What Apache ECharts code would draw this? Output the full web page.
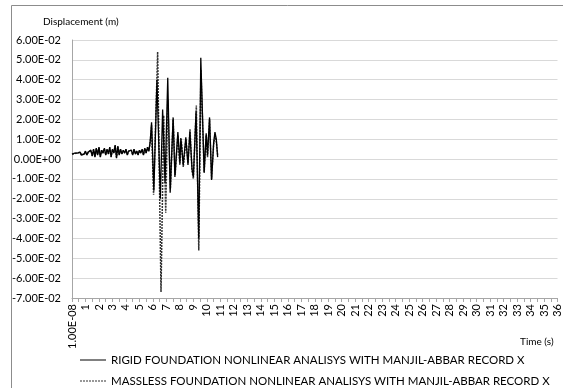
<!DOCTYPE html>
<html><head><meta charset="utf-8">
<script src="https://cdn.jsdelivr.net/npm/echarts@6/dist/echarts.min.js"></script>
<style>html,body{margin:0;padding:0;background:#fff}#c{width:563px;height:388px}</style>
</head><body><div id="c"></div>
<script>
// X tick labels (seconds)
const xTickLabels = ['1.00E-08','1','2','3','4','5','6','7','8','9','10','11','12','13','14','15','16','17','18','19','20','21','22','23','24','25','26','27','28','29','30','31','32','33','34','35','36'];
// Y tick labels
const yTickValues = [0.06,0.05,0.04,0.03,0.02,0.01,0,-0.01,-0.02,-0.03,-0.04,-0.05,-0.06,-0.07];
const yTickLabels = ['6.00E-02','5.00E-02','4.00E-02','3.00E-02','2.00E-02','1.00E-02','0.00E+00','-1.00E-02','-2.00E-02','-3.00E-02','-4.00E-02','-5.00E-02','-6.00E-02','-7.00E-02'];

// Series names
const rigidName = 'RIGID FOUNDATION NONLINEAR ANALISYS WITH MANJIL-ABBAR RECORD X';
const masslessName = 'MASSLESS FOUNDATION NONLINEAR ANALISYS WITH MANJIL-ABBAR RECORD X';

// Rigid foundation (solid) — time (s) and displacement (m)
const rigidTime = [0.0,0.1,0.2,0.3,0.4,0.5,0.6,0.7,0.8,0.9,1.0,1.1,1.2,1.3,1.4,1.5,1.6,1.7,1.8,1.9,2.0,2.1,2.2,2.3,2.4,2.5,2.6,2.7,2.8,2.9,3.0,3.1,3.2,3.3,3.4,3.5,3.6,3.7,3.8,3.9,4.0,4.1,4.2,4.3,4.4,4.5,4.6,4.7,4.8,4.9,5.0,5.1,5.2,5.3,5.4,5.5,5.6,5.7,5.8,5.9,6.07,6.3,6.55,6.72,6.9,7.1,7.28,7.5,7.63,7.85,8.0,8.07,8.25,8.44,8.6,8.74,8.9,9.0,9.2,9.4,9.55,9.8,9.95,10.05,10.2,10.35,10.5,10.6,10.7,10.8];
const rigidDisp = [0.0025,0.0020,0.0030,0.0020,0.0030,0.0025,0.0035,0.0020,0.0030,0.0025,0.0040,0.0020,0.0035,0.0030,0.0045,0.0015,0.0050,0.0010,0.0055,0.0020,0.0060,0.0010,0.0045,0.0030,0.0055,0.0020,0.0050,0.0025,0.0060,0.0010,0.0050,0.0030,0.0070,0.0005,0.0065,0.0020,0.0050,0.0025,0.0045,0.0030,0.0050,0.0020,0.0040,0.0030,0.0045,0.0020,0.0050,0.0025,0.0040,0.0020,0.0045,0.0030,0.0050,0.0020,0.0055,0.0030,0.0060,0.0040,0.0090,0.0185,-0.0160,0.0400,-0.0200,0.0250,-0.0120,0.0410,-0.0170,0.0210,-0.0090,0.0136,-0.0020,0.0106,-0.0030,0.0110,-0.0030,0.0136,-0.0050,-0.0090,0.0240,-0.0400,0.0510,-0.0065,0.0130,0.0020,0.0210,-0.0105,0.0080,0.0136,0.0100,0.0010];

// Massless foundation (dashed) — time (s) and displacement (m)
const masslessTime = [0.0,0.1,0.2,0.3,0.4,0.5,0.6,0.7,0.8,0.9,1.0,1.1,1.2,1.3,1.4,1.5,1.6,1.7,1.8,1.9,2.0,2.1,2.2,2.3,2.4,2.5,2.6,2.7,2.8,2.9,3.0,3.1,3.2,3.3,3.4,3.5,3.6,3.7,3.8,3.9,4.0,4.1,4.2,4.3,4.4,4.5,4.6,4.7,4.8,4.9,5.0,5.1,5.2,5.3,5.4,5.5,5.6,5.7,5.8,5.9,6.05,6.35,6.6,6.8,6.95,7.1,7.3,7.5,7.65,7.85,8.0,8.1,8.25,8.45,8.6,8.75,8.9,9.0,9.22,9.4,9.56,9.8,9.95,10.05,10.2,10.35,10.5,10.6,10.7,10.8];
const masslessDisp = [0.0025,0.0022,0.0028,0.0020,0.0032,0.0024,0.0033,0.0021,0.0030,0.0026,0.0038,0.0022,0.0034,0.0030,0.0043,0.0017,0.0048,0.0012,0.0052,0.0022,0.0058,0.0012,0.0044,0.0031,0.0053,0.0022,0.0048,0.0027,0.0058,0.0012,0.0048,0.0031,0.0068,0.0008,0.0062,0.0022,0.0048,0.0027,0.0043,0.0031,0.0048,0.0022,0.0040,0.0031,0.0044,0.0022,0.0048,0.0027,0.0040,0.0022,0.0044,0.0031,0.0048,0.0022,0.0053,0.0031,0.0058,0.0040,0.0085,0.0170,-0.0180,0.0540,-0.0670,0.0220,-0.0270,0.0300,-0.0150,0.0200,-0.0080,0.0120,-0.0030,0.0100,-0.0040,0.0100,-0.0020,0.0150,-0.0060,-0.0100,0.0270,-0.0460,0.0450,-0.0070,0.0120,0.0010,0.0200,-0.0100,0.0070,0.0120,0.0090,0.0020];

const toPairs = (ts, vs) => ts.map((t, i) => [t, vs[i]]);
const FONT = 'Lato, "Open Sans", sans-serif';
const solidIcon = 'path://M0,4.5L26,4.5L26,5.5L0,5.5Z';
const dashIcon = 'path://M0,4.5L2,4.5L2,5.5L0,5.5ZM3,4.5L5,4.5L5,5.5L3,5.5ZM6,4.5L8,4.5L8,5.5L6,5.5ZM9,4.5L11,4.5L11,5.5L9,5.5ZM12,4.5L14,4.5L14,5.5L12,5.5ZM15,4.5L17,4.5L17,5.5L15,5.5ZM18,4.5L20,4.5L20,5.5L18,5.5ZM21,4.5L23,4.5L23,5.5L21,5.5ZM24,4.5L26,4.5L26,5.5L24,5.5Z';
const legendBase = {itemWidth: 26, itemHeight: 10, itemGap: 3, textStyle: {fontFamily: FONT, fontSize: 11.5, color: '#000'}, selectedMode: false};

const chart = echarts.init(document.getElementById('c'), null, {renderer: 'canvas'});
chart.setOption({
  animation: false,
  backgroundColor: '#fff',
  graphic: [
    {type: 'rect', shape: {x: 11.5, y: 5.5, width: 600, height: 400}, style: {fill: 'none', stroke: '#8c8c8c', lineWidth: 1}, silent: true},
    {type: 'text', left: 43, top: 17, style: {text: 'Displacement (m)', font: '10px ' + FONT, fill: '#000'}},
    {type: 'text', left: 520, top: 337, style: {text: 'Time (s)', font: '10px ' + FONT, fill: '#000'}}
  ],
  grid: {left: 72, right: 5, top: 40, bottom: 90, containLabel: false},
  legend: [
    Object.assign({left: 75, top: 349, data: [{name: rigidName, icon: solidIcon, itemStyle: {color: '#000'}}]}, legendBase),
    Object.assign({left: 75, top: 370, data: [{name: masslessName, icon: dashIcon, itemStyle: {color: '#333'}}]}, legendBase)
  ],
  xAxis: {
    type: 'value', min: 0, max: 36, interval: 1,
    axisLine: {show: true, onZero: false, lineStyle: {color: '#a6a6a6', width: 1}},
    axisTick: {show: true, length: 4, lineStyle: {color: '#a6a6a6'}},
    minorTick: {show: true, splitNumber: 2, length: 4, lineStyle: {color: '#a6a6a6'}},
    splitLine: {show: false},
    axisLabel: {
      rotate: 90, fontFamily: FONT, fontSize: 11, color: '#000', margin: 6,
      showMinLabel: true, showMaxLabel: true,
      formatter: v => xTickLabels[Math.round(v)] ?? ''
    }
  },
  yAxis: {
    type: 'value', min: -0.07, max: 0.06, interval: 0.01,
    axisLine: {show: true, lineStyle: {color: '#a6a6a6', width: 1}},
    axisTick: {show: false},
    splitLine: {show: true, lineStyle: {color: '#d9d9d9', width: 1}},
    axisLabel: {
      fontFamily: FONT, fontSize: 11, color: '#000', margin: 11,
      formatter: v => {
        const i = yTickValues.findIndex(y => Math.abs(y - v) < 1e-9);
        return i >= 0 ? yTickLabels[i] : '';
      }
    }
  },
  series: [
    {
      name: rigidName,
      type: 'line', symbol: 'none', z: 3,
      data: toPairs(rigidTime, rigidDisp),
      lineStyle: {color: '#000', width: 1.3, type: 'solid'}
    },
    {
      name: masslessName,
      type: 'line', symbol: 'none', z: 2,
      data: toPairs(masslessTime, masslessDisp),
      lineStyle: {color: '#333', width: 1.5, type: [2, 1]}
    }
  ]
});
</script>
</body></html>
